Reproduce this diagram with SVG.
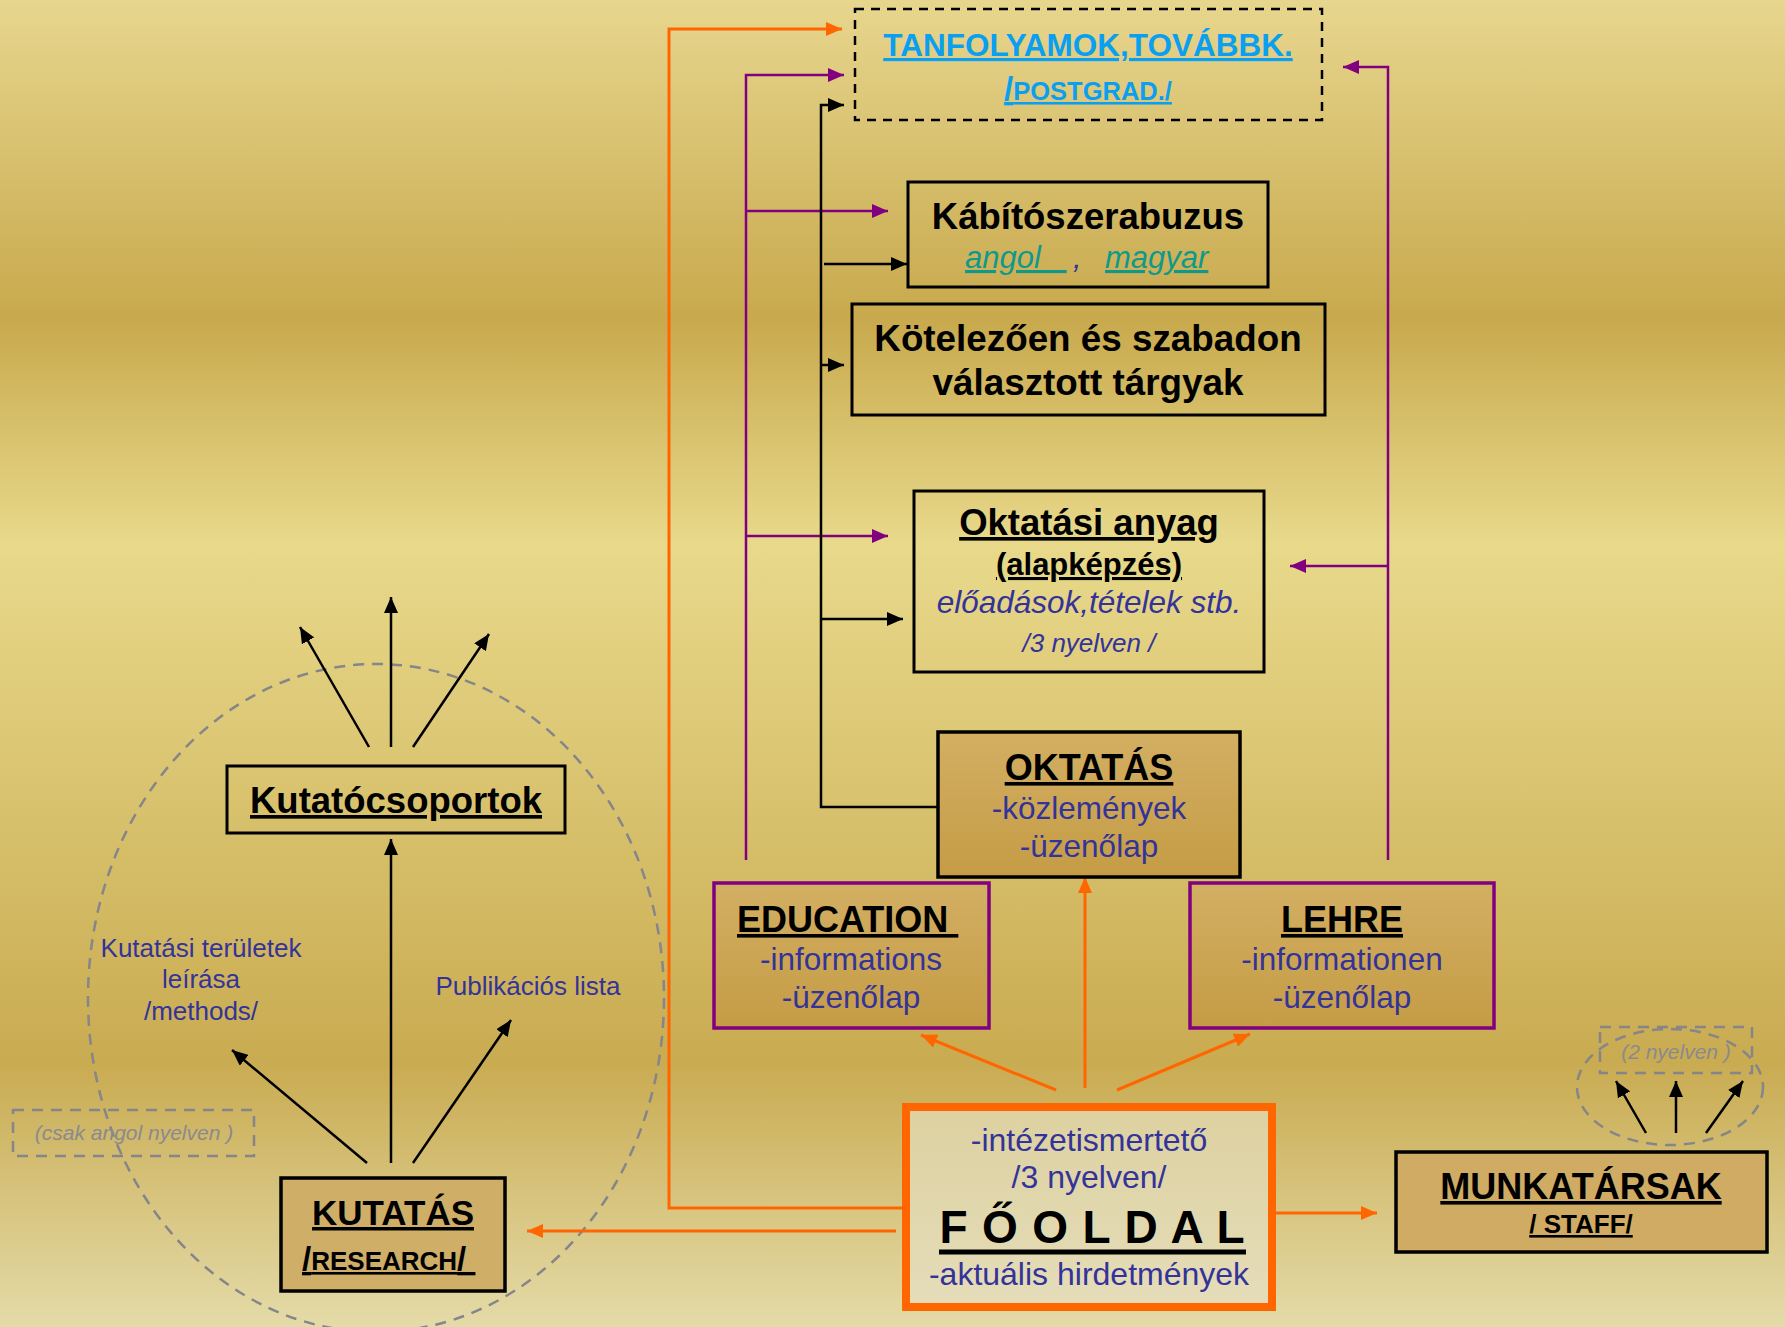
<svg xmlns="http://www.w3.org/2000/svg" width="1785" height="1327" viewBox="0 0 1785 1327">
<defs>
<linearGradient id="bg" x1="0" y1="0" x2="0" y2="1">
<stop offset="0" stop-color="#e7d68e"/>
<stop offset="0.24" stop-color="#c8a94d"/>
<stop offset="0.41" stop-color="#e8d98b"/>
<stop offset="0.8" stop-color="#c9ab51"/>
<stop offset="1" stop-color="#e4dba8"/>
</linearGradient>
<linearGradient id="tan" x1="0" y1="0" x2="0" y2="1">
<stop offset="0" stop-color="#d3af63"/>
<stop offset="1" stop-color="#c59c45"/>
</linearGradient>
<linearGradient id="cream" x1="0" y1="0" x2="0" y2="1">
<stop offset="0" stop-color="#ddd1a0"/>
<stop offset="1" stop-color="#e5ddba"/>
</linearGradient>
<marker id="aB" markerUnits="userSpaceOnUse" markerWidth="16" markerHeight="14" refX="16" refY="7" orient="auto"><path d="M0,0 L16,7 L0,14 z" fill="#000"/></marker>
<marker id="aO" markerUnits="userSpaceOnUse" markerWidth="16" markerHeight="14" refX="16" refY="7" orient="auto"><path d="M0,0 L16,7 L0,14 z" fill="#ff6600"/></marker>
<marker id="aP" markerUnits="userSpaceOnUse" markerWidth="16" markerHeight="14" refX="16" refY="7" orient="auto"><path d="M0,0 L16,7 L0,14 z" fill="#800080"/></marker>
</defs>
<style>
text{font-family:"Liberation Sans",Arial,sans-serif;text-anchor:middle}
.b{font-weight:bold}
.u{text-decoration:underline}
.blue{fill:#333399}
.i{font-style:italic}
.box{fill:none;stroke:#000;stroke-width:3}
.tanbox{fill:url(#tan);stroke:#000;stroke-width:3.5}
.pbox{fill:url(#tan);stroke:#800080;stroke-width:3.5}
.gdash{fill:none;stroke:#85858a;stroke-width:2.5;stroke-dasharray:11,8}
.cb{fill:none;stroke:#000;stroke-width:2.5;marker-end:url(#aB)}
.co{fill:none;stroke:#ff6600;stroke-width:3;marker-end:url(#aO)}
.cp{fill:none;stroke:#800080;stroke-width:2.5;marker-end:url(#aP)}
</style>
<rect x="0" y="0" width="1785" height="1327" fill="url(#bg)"/>

<g id="decor">
<ellipse class="gdash" cx="376" cy="998" rx="288" ry="334"/>
<ellipse class="gdash" cx="1670" cy="1087" rx="93" ry="58"/>
</g>

<g id="connectors">
<path class="cp" d="M746,860 V75 H844"/>
<path class="cp" d="M746,211 H888"/>
<path class="cp" d="M746,536 H888"/>
<path class="cp" d="M1388,860 V67 H1343"/>
<path class="cp" d="M1388,566 H1290"/>
<path class="cb" d="M938,807 H821 V105 H844"/>
<path class="cb" d="M824,264 H907"/>
<path class="cb" d="M821,365 H844"/>
<path class="cb" d="M821,619 H903"/>
<path class="co" d="M902,1208 H669 V29 H842"/>
<path class="co" d="M896,1231 H527"/>
<path class="co" d="M1276,1213 H1377"/>
<path class="co" d="M1085,1088 V877"/>
<path class="co" d="M1056,1090 L921,1035"/>
<path class="co" d="M1117,1090 L1250,1034"/>
<path class="cb" d="M369,747 L300,627"/>
<path class="cb" d="M391,747 V597"/>
<path class="cb" d="M413,747 L489,634"/>
<path class="cb" d="M391,1163 V839"/>
<path class="cb" d="M367,1163 L232,1050"/>
<path class="cb" d="M413,1163 L511,1020"/>
<path class="cb" d="M1646,1133 L1616,1081"/>
<path class="cb" d="M1676,1133 V1081"/>
<path class="cb" d="M1706,1133 L1743,1081"/>
</g>

<g id="tanfolyamok">
<rect x="855" y="9" width="467" height="111" fill="none" stroke="#000" stroke-width="2.5" stroke-dasharray="9,7"/>
<text x="1088" y="56" class="b u" font-size="31.5" fill="#0a9ff0">TANFOLYAMOK,TOVÁBBK.</text>
<text x="1088" y="100" class="b u" fill="#0a9ff0"><tspan font-size="33">/</tspan><tspan font-size="25.5">POSTGRAD./</tspan></text>
</g>

<g id="kabitoszer">
<rect class="box" x="908" y="182" width="360" height="105"/>
<text x="1088" y="229" class="b" font-size="36.5">Kábítószerabuzus</text>
<text x="965" y="268" class="i u" font-size="31" fill="#10998a" style="text-anchor:start">angol&#160;&#160;&#160;</text>
<text x="1073" y="268" class="i blue" font-size="31" style="text-anchor:start">,</text>
<text x="1105" y="268" class="i u" font-size="31" fill="#10998a" style="text-anchor:start">magyar</text>
</g>

<g id="kotelezo">
<rect class="box" x="852" y="304" width="473" height="111"/>
<text x="1088" y="351" class="b" font-size="36.8">Kötelezően és szabadon</text>
<text x="1088" y="395" class="b" font-size="36.8">választott tárgyak</text>
</g>

<g id="oktatasi-anyag">
<rect class="box" x="914" y="491" width="350" height="181"/>
<text x="1089" y="535" class="b u" font-size="36.5">Oktatási anyag</text>
<text x="1089" y="575" class="b u" font-size="31">(alapképzés)</text>
<text x="1089" y="613" class="i blue" font-size="31.5">előadások,tételek stb.</text>
<text x="1089" y="652" class="i blue" font-size="26">/3 nyelven /</text>
</g>

<g id="oktatas">
<rect class="tanbox" x="938" y="732" width="302" height="145"/>
<text x="1089" y="780" class="b u" font-size="36">OKTATÁS</text>
<text x="1089" y="819" class="blue" font-size="31.5">-közlemények</text>
<text x="1089" y="857" class="blue" font-size="31.5">-üzenőlap</text>
</g>

<g id="education">
<rect class="pbox" x="714" y="883" width="275" height="145"/>
<text x="737" y="932" class="b u" font-size="36" style="text-anchor:start">EDUCATION&#160;</text>
<text x="851" y="970" class="blue" font-size="31.5">-informations</text>
<text x="851" y="1008" class="blue" font-size="31.5">-üzenőlap</text>
</g>

<g id="lehre">
<rect class="pbox" x="1190" y="883" width="304" height="145"/>
<text x="1342" y="932" class="b u" font-size="36">LEHRE</text>
<text x="1342" y="970" class="blue" font-size="31.5">-informationen</text>
<text x="1342" y="1008" class="blue" font-size="31.5">-üzenőlap</text>
</g>

<g id="fooldal">
<rect x="906" y="1107" width="366" height="200" fill="url(#cream)" stroke="#ff6600" stroke-width="8"/>
<text x="1089" y="1151" class="blue" font-size="32">-intézetismertető</text>
<text x="1089" y="1188" class="blue" font-size="32">/3 nyelven/</text>
<text x="1092" y="1243" class="b" font-size="46" textLength="305" lengthAdjust="spacing">F Ő O L D A L</text>
<line x1="939" y1="1252" x2="1246" y2="1252" stroke="#000" stroke-width="5"/>
<text x="1089" y="1285" class="blue" font-size="32">-aktuális hirdetmények</text>
</g>

<g id="munkatarsak">
<rect class="tanbox" x="1396" y="1152" width="371" height="100" style="fill:#cfab64"/>
<text x="1581" y="1199" class="b u" font-size="36">MUNKATÁRSAK</text>
<text x="1581" y="1233" class="b u" font-size="26">/ STAFF/</text>
</g>

<g id="kutatas">
<rect class="tanbox" x="281" y="1178" width="224" height="113" style="fill:#cfae68"/>
<text x="393" y="1225" class="b u" font-size="35">KUTATÁS</text>
<text x="302" y="1270" class="b u" style="text-anchor:start"><tspan font-size="33">/</tspan><tspan font-size="26">RESEARCH</tspan><tspan font-size="33">/&#160;</tspan></text>
</g>

<g id="kutatocsoportok">
<rect class="box" x="227" y="766" width="338" height="67"/>
<text x="396" y="813" class="b u" font-size="36.5">Kutatócsoportok</text>
</g>

<g id="labels">
<text x="201" y="957" class="blue" font-size="26">Kutatási területek</text>
<text x="201" y="988" class="blue" font-size="26">leírása</text>
<text x="201" y="1020" class="blue" font-size="26">/methods/</text>
<text x="528" y="995" class="blue" font-size="26">Publikációs lista</text>
<rect class="gdash" x="13" y="1110" width="241" height="46"/>
<text x="134" y="1140" class="i" font-size="21" fill="#8a8a8e">(csak angol nyelven )</text>
<rect class="gdash" x="1600" y="1027" width="152" height="46"/>
<text x="1676" y="1059" class="i" font-size="21" fill="#8a8a8e">(2 nyelven )</text>
</g>
</svg>
